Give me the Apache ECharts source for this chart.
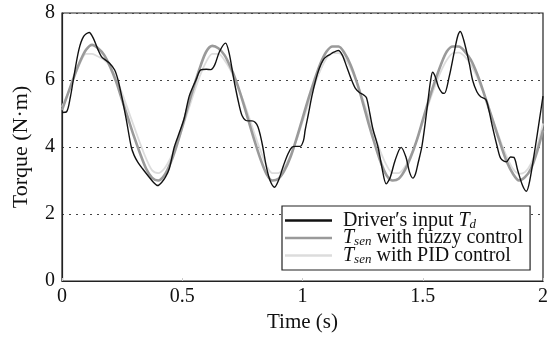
<!DOCTYPE html>
<html>
<head>
<meta charset="utf-8">
<script src="https://cdn.jsdelivr.net/npm/echarts@6/dist/echarts.min.js"></script>
<style>html,body{margin:0;padding:0;background:#fff}#c{width:551px;height:338px}</style>
</head>
<body>
<div id="c"></div>
<script>
// ---- data ----
const xTicks = [0, 0.5, 1, 1.5, 2];
const yTicks = [0, 2, 4, 6, 8];
const seriesNames = ["Driver's input Td", "Tsen with fuzzy control", "Tsen with PID control"];

const driverT = [0, 0.019, 0.035, 0.047, 0.07, 0.09, 0.113, 0.13, 0.15, 0.164, 0.18, 0.198, 0.219, 0.233, 0.25, 0.267, 0.288, 0.3, 0.315, 0.335, 0.357, 0.38, 0.398, 0.415, 0.43, 0.446, 0.467, 0.488, 0.508, 0.529, 0.557, 0.577, 0.6, 0.619, 0.635, 0.655, 0.68, 0.695, 0.715, 0.735, 0.749, 0.763, 0.777, 0.79, 0.804, 0.815, 0.825, 0.835, 0.85, 0.865, 0.884, 0.9, 0.921, 0.94, 0.956, 0.97, 0.99, 1.004, 1.011, 1.025, 1.039, 1.055, 1.07, 1.087, 1.1, 1.114, 1.13, 1.149, 1.165, 1.183, 1.204, 1.22, 1.238, 1.255, 1.266, 1.28, 1.293, 1.314, 1.33, 1.348, 1.365, 1.385, 1.41, 1.43, 1.445, 1.459, 1.47, 1.48, 1.496, 1.51, 1.522, 1.532, 1.541, 1.552, 1.565, 1.58, 1.59, 1.61, 1.63, 1.645, 1.656, 1.67, 1.693, 1.707, 1.725, 1.741, 1.762, 1.775, 1.789, 1.81, 1.825, 1.848, 1.865, 1.879, 1.895, 1.915, 1.931, 1.945, 1.968, 1.985, 2.0];
const driverV = [5.03, 5.05, 5.5, 6.0, 6.9, 7.3, 7.42, 7.25, 6.9, 6.7, 6.6, 6.5, 6.3, 6.0, 5.45, 4.83, 4.0, 3.75, 3.55, 3.35, 3.15, 2.95, 2.85, 2.95, 3.1, 3.35, 4.0, 4.43, 4.85, 5.52, 6.0, 6.3, 6.32, 6.31, 6.45, 6.85, 7.1, 6.8, 6.0, 5.3, 4.93, 4.8, 4.78, 4.78, 4.73, 4.6, 4.34, 4.0, 3.4, 3.0, 2.8, 3.0, 3.45, 3.8, 3.99, 4.02, 4.02, 4.19, 4.5, 5.0, 5.52, 6.0, 6.35, 6.61, 6.7, 6.76, 6.83, 6.88, 6.75, 6.41, 6.0, 5.75, 5.62, 5.55, 5.47, 5.0, 4.53, 4.0, 3.4, 2.9, 3.1, 3.6, 3.99, 3.7, 3.25, 3.07, 3.2, 3.5, 4.0, 4.7, 5.4, 5.95, 6.23, 6.1, 5.8, 5.62, 5.6, 6.1, 6.8, 7.3, 7.45, 7.2, 6.51, 6.0, 5.65, 5.5, 5.42, 5.1, 4.63, 4.0, 3.65, 3.56, 3.7, 3.69, 3.3, 2.85, 2.68, 3.0, 4.0, 4.8, 5.52];

const ctrlT = [0, 0.025, 0.05, 0.075, 0.1, 0.125, 0.15, 0.175, 0.2, 0.225, 0.25, 0.275, 0.3, 0.325, 0.35, 0.375, 0.4, 0.425, 0.45, 0.475, 0.5, 0.525, 0.55, 0.575, 0.6, 0.625, 0.65, 0.675, 0.7, 0.725, 0.75, 0.775, 0.8, 0.825, 0.85, 0.875, 0.9, 0.925, 0.95, 0.975, 1.0, 1.025, 1.05, 1.075, 1.1, 1.125, 1.15, 1.175, 1.2, 1.225, 1.25, 1.275, 1.3, 1.325, 1.35, 1.375, 1.4, 1.425, 1.45, 1.475, 1.5, 1.525, 1.55, 1.575, 1.6, 1.625, 1.65, 1.675, 1.7, 1.725, 1.75, 1.775, 1.8, 1.825, 1.85, 1.875, 1.9, 1.925, 1.95, 1.975, 2.0];
const fuzzyV = [5.1, 5.6, 6.1, 6.55, 6.9, 7.05, 6.95, 6.75, 6.4, 5.95, 5.4, 4.85, 4.3, 3.8, 3.35, 3.08, 3.0, 3.15, 3.5, 4.0, 4.6, 5.25, 5.85, 6.4, 6.85, 7.02, 6.95, 6.75, 6.4, 5.95, 5.4, 4.8, 4.2, 3.65, 3.2, 3.0, 3.05, 3.3, 3.7, 4.25, 4.85, 5.45, 6.0, 6.5, 6.85, 7.0, 7.0, 6.8, 6.45, 5.95, 5.35, 4.7, 4.1, 3.55, 3.15, 3.0, 3.05, 3.3, 3.7, 4.2, 4.8, 5.4, 5.95, 6.45, 6.85, 7.0, 7.0, 6.85, 6.6, 6.2, 5.7, 5.15, 4.6, 4.05, 3.55, 3.2, 3.0, 3.1, 3.35, 3.85, 4.5];
const pidV = [5.2, 5.6, 6.05, 6.5, 6.78, 6.78, 6.7, 6.6, 6.4, 6.05, 5.6, 5.1, 4.6, 4.1, 3.65, 3.3, 3.22, 3.35, 3.65, 4.05, 4.55, 5.1, 5.65, 6.15, 6.55, 6.78, 6.78, 6.6, 6.3, 5.9, 5.45, 4.95, 4.4, 3.9, 3.45, 3.22, 3.22, 3.4, 3.75, 4.2, 4.75, 5.3, 5.85, 6.3, 6.65, 6.8, 6.8, 6.65, 6.35, 5.95, 5.45, 4.9, 4.35, 3.85, 3.45, 3.22, 3.22, 3.4, 3.75, 4.2, 4.75, 5.3, 5.8, 6.25, 6.6, 6.8, 6.82, 6.7, 6.45, 6.1, 5.65, 5.15, 4.65, 4.15, 3.7, 3.35, 3.2, 3.25, 3.5, 4.0, 4.7];

// ---- chart ----
const zip = (a, b) => a.map((t, i) => [t, b[i]]);
const FONT = '"Liberation Serif", "DejaVu Serif", serif';
const chart = echarts.init(document.getElementById('c'), null, {renderer: 'canvas'});

const LH = 18;
const legendRich = {
  n: {fontFamily: FONT, fontSize: 20, color: '#111', lineHeight: LH},
  i: {fontFamily: FONT, fontSize: 20, fontStyle: 'italic', color: '#111', lineHeight: LH},
  s: {fontFamily: FONT, fontSize: 13, fontStyle: 'italic', color: '#111', lineHeight: 10, padding: [8, 0, 0, 0]}
};

chart.setOption({
  animation: false,
  backgroundColor: '#fff',
  grid: {left: 62, right: 5, top: 13, bottom: 55, show: true, borderColor: '#222', borderWidth: 1.2, backgroundColor: 'transparent'},
  xAxis: {
    type: 'value', min: xTicks[0], max: xTicks[xTicks.length - 1], interval: 0.5,
    name: 'Time (s)', nameLocation: 'middle', nameGap: 31,
    nameTextStyle: {fontFamily: FONT, fontSize: 21, color: '#111'},
    axisLine: {show: true, lineStyle: {color: '#222', width: 1.2}},
    axisTick: {show: true, inside: true, length: 3, lineStyle: {color: '#ccc'}},
    axisLabel: {fontFamily: FONT, fontSize: 20, color: '#111', margin: 6},
    splitLine: {show: false}
  },
  yAxis: {
    type: 'value', min: yTicks[0], max: yTicks[yTicks.length - 1], interval: 2,
    name: 'Torque (N·m)', nameLocation: 'middle', nameGap: 30, nameRotate: 90,
    nameTextStyle: {fontFamily: FONT, fontSize: 22, color: '#111'},
    axisLine: {show: true, lineStyle: {color: '#222', width: 1.2}},
    axisTick: {show: false},
    axisLabel: {fontFamily: FONT, fontSize: 20, color: '#111', margin: 7},
    splitLine: {show: true, lineStyle: {color: '#444', type: [2, 5], width: 1.2}}
  },
  legend: {
    orient: 'vertical', left: 282, top: 206,
    data: seriesNames.map(n => ({name: n, icon: 'rect'})),
    backgroundColor: '#fff', borderColor: '#222', borderWidth: 1.2, borderRadius: 0,
    padding: [4, 7, 4, 3], itemGap: -3.5, itemWidth: 47, itemHeight: 2.5,
    formatter: function (name) {
      if (name === seriesNames[0]) return '{n|Driver′s input }{i|T}{s|d}';
      if (name === seriesNames[1]) return '{i|T}{s|sen}{n| with fuzzy control}';
      return '{i|T}{s|sen}{n| with PID control}';
    },
    textStyle: {fontFamily: FONT, fontSize: 20, color: '#111', lineHeight: LH, padding: [0, 0, 0, 6], rich: legendRich}
  },
  series: [
    {name: seriesNames[2], type: 'line', data: zip(ctrlT, pidV), smooth: 0.3, symbol: 'none',
     lineStyle: {color: '#dcdcdc', width: 1.8}, itemStyle: {color: '#dcdcdc'}, z: 2},
    {name: seriesNames[1], type: 'line', data: zip(ctrlT, fuzzyV), smooth: 0.3, symbol: 'none',
     lineStyle: {color: '#9a9a9a', width: 2.6}, itemStyle: {color: '#9a9a9a'}, z: 3},
    {name: seriesNames[0], type: 'line', data: zip(driverT, driverV), smooth: 0.3, symbol: 'none',
     lineStyle: {color: '#111', width: 1.4}, itemStyle: {color: '#111'}, z: 4}
  ]
});
</script>
</body>
</html>
